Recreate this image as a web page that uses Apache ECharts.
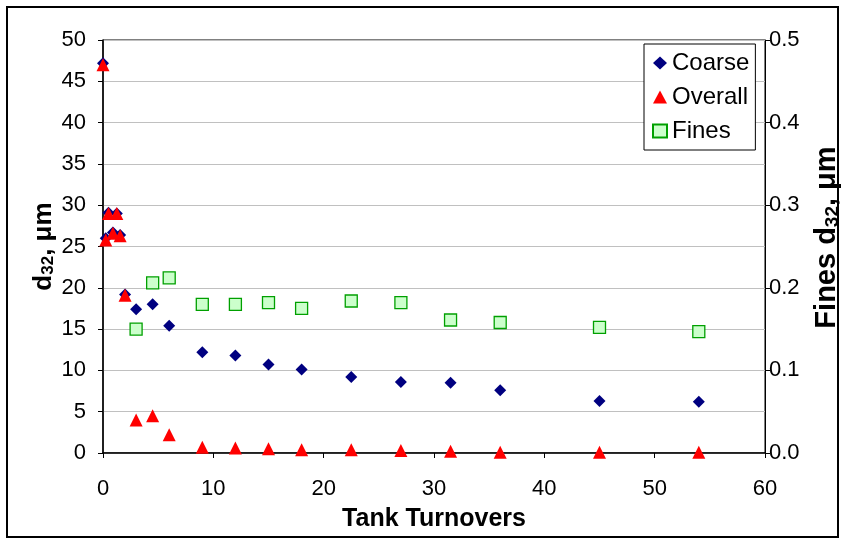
<!DOCTYPE html>
<html><head><meta charset="utf-8">
<script src="https://cdn.jsdelivr.net/npm/echarts@6/dist/echarts.min.js"></script>
<style>html,body{margin:0;padding:0;background:#fff}#c{width:845px;height:542px}</style>
</head><body><div id="c"></div>
<script>
const turnovers = [0, 0.25, 0.5, 0.9, 1.25, 1.55, 2, 3, 4.5, 6, 9, 12, 15, 18, 22.5, 27, 31.5, 36, 45, 54];
const coarse =    [47.2, 26.0, 29.1, 26.7, 29.0, 26.4, 19.2, 17.4, 18.0, 15.4, 12.2, 11.8, 10.7, 10.1, 9.2, 8.6, 8.5, 7.6, 6.3, 6.2];
const overall =   [47.0, 25.8, 29.0, 26.6, 29.0, 26.3, 19.1, 4.0, 4.5, 2.2, 0.7, 0.6, 0.5, 0.4, 0.4, 0.3, 0.2, 0.1, 0.1, 0.1];
const finesTurnovers = [3, 4.5, 6, 9, 12, 15, 18, 22.5, 27, 31.5, 36, 45, 54];
const fines =          [0.150, 0.206, 0.212, 0.180, 0.180, 0.182, 0.175, 0.184, 0.182, 0.161, 0.158, 0.152, 0.147];
const xTicks = [0, 60, 10];
const leftTicks = [0, 50, 5];
const rightTicks = [0, 0.5, 0.1];

const font = 'Liberation Sans, Arial, sans-serif';
const zip = (xs, ys) => xs.map((x, i) => [x, ys[i]]);
const mkRich = (size) => ({
  b: {fontFamily: font, fontSize: size, fontWeight: 'bold', color: '#000'},
  s: {fontFamily: font, fontSize: Math.round(size * 0.64), fontWeight: 'bold', color: '#000', verticalAlign: 'bottom', padding: [Math.round(size * 0.4), 0, 0, 0]}
});
const chart = echarts.init(document.getElementById('c'));
chart.setOption({
  animation: false,
  graphic: [{type: 'rect', shape: {x: 7, y: 7, width: 831, height: 530}, style: {fill: 'none', stroke: '#000', lineWidth: 2}, silent: true, z: -1}],
  grid: {left: 103, right: 80, top: 40, bottom: 89, containLabel: false, outerBoundsMode: 'none', show: true, borderColor: '#000', borderWidth: 1, backgroundColor: 'transparent'},
  legend: {
    orient: 'vertical', left: 644, top: 44,
    backgroundColor: '#fff', borderColor: '#000', borderWidth: 1, padding: [6, 6, 6, 8],
    itemGap: 8, itemWidth: 14, itemHeight: 13,
    textStyle: {fontFamily: font, fontSize: 24, lineHeight: 26, color: '#000'},
    data: [{name: 'Coarse', icon: 'diamond'}, {name: 'Overall', icon: 'triangle'}, {name: 'Fines', icon: 'rect'}]
  },
  xAxis: {
    type: 'value', min: xTicks[0], max: xTicks[1], interval: xTicks[2],
    name: 'Tank Turnovers', nameLocation: 'middle', nameGap: 54, nameMoveOverlap: false,
    nameTextStyle: {fontFamily: font, fontSize: 25, fontWeight: 'bold', color: '#000'},
    axisLine: {show: true, lineStyle: {color: '#000', width: 1.5}},
    axisTick: {show: true, inside: false, length: 5, lineStyle: {color: '#000'}},
    axisLabel: {fontFamily: font, fontSize: 22, color: '#000', margin: 25},
    splitLine: {show: false}
  },
  yAxis: [{
    type: 'value', min: leftTicks[0], max: leftTicks[1], interval: leftTicks[2], position: 'left',
    name: '{b|d}{s|32}{b|, μm}', nameLocation: 'middle', nameGap: 46, nameRotate: 90, nameMoveOverlap: false,
    nameTextStyle: {fontFamily: font, fontSize: 26, fontWeight: 'bold', color: '#000', rich: mkRich(26)},
    axisLine: {show: true, lineStyle: {color: '#000', width: 1.5}},
    axisTick: {show: true, inside: false, length: 5, lineStyle: {color: '#000'}},
    axisLabel: {fontFamily: font, fontSize: 22, color: '#000', margin: 17},
    splitLine: {show: true, lineStyle: {color: '#c0c0c0', width: 1}}
  }, {
    type: 'value', min: rightTicks[0], max: rightTicks[1], interval: rightTicks[2], position: 'right',
    name: '{b|Fines d}{s|32}{b|, μm}', nameLocation: 'middle', nameGap: 46, nameRotate: 90, nameMoveOverlap: false,
    nameTextStyle: {fontFamily: font, fontSize: 29, fontWeight: 'bold', color: '#000', rich: mkRich(29), padding: [0, 0, 0, 18]},
    axisLine: {show: true, lineStyle: {color: '#000', width: 1}},
    axisTick: {show: true, inside: false, length: 5, lineStyle: {color: '#000'}},
    axisLabel: {fontFamily: font, fontSize: 22, color: '#000', margin: 4, formatter: v => v.toFixed(1)},
    splitLine: {show: false}
  }],
  series: [{
    name: 'Coarse', type: 'scatter', yAxisIndex: 0, symbol: 'diamond', symbolSize: 12,
    itemStyle: {color: '#000080', opacity: 1}, data: zip(turnovers, coarse), z: 2
  }, {
    name: 'Overall', type: 'scatter', yAxisIndex: 0, symbol: 'triangle', symbolSize: 13,
    itemStyle: {color: '#ff0000', opacity: 1}, data: zip(turnovers, overall), z: 3
  }, {
    name: 'Fines', type: 'scatter', yAxisIndex: 1, symbol: 'rect', symbolSize: 12,
    itemStyle: {color: '#ccffcc', borderColor: '#00a000', borderWidth: 1.3, opacity: 1}, data: zip(finesTurnovers, fines), z: 4
  }]
});
</script></body></html>
